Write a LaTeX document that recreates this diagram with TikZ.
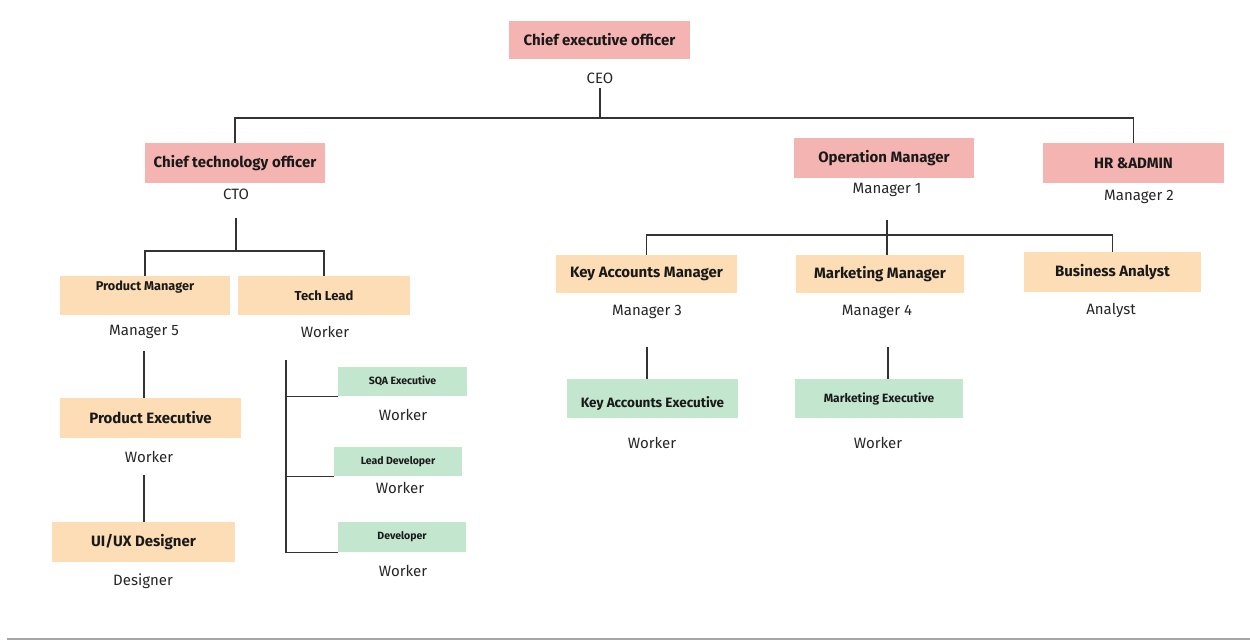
\documentclass[tikz,border=0pt]{standalone}
\usepackage{fontspec}
\setmainfont{Fira Sans}
\definecolor{rolepink}{HTML}{F4B4B1}
\definecolor{rolepeach}{HTML}{FCDDB6}
\definecolor{rolegreen}{HTML}{C3E6CE}
\definecolor{linegray}{HTML}{333333}
\begin{document}
\begin{tikzpicture}[x=1pt, y=-1pt,
        box/.style={rectangle, inner sep=0pt, font=\bfseries\fontsize{15}{17}\selectfont, text=black!90},
        pinkbox/.style={box, fill=rolepink},
        peachbox/.style={box, fill=rolepeach},
        greenbox/.style={box, fill=rolegreen},
        tag/.style={inner sep=2pt, font=\fontsize{15}{17}\selectfont, text=black!85},
        line/.style={draw=linegray, line width=1.2pt}]
        \useasboundingbox (0,0) rectangle (1250,643);

        % Boxes (Roles)
        \node[pinkbox, minimum width=181, minimum height=38] (ceo) at (599.5,40) {Chief executive officer};
        \node[pinkbox, minimum width=180, minimum height=40] (cto) at (235,163) {Chief technology officer};
        \node[pinkbox, minimum width=180, minimum height=40] (opm) at (884,158) {Operation Manager};
        \node[pinkbox, minimum width=181, minimum height=40] (hr) at (1133.5,163) {HR \&ADMIN};
        \node[peachbox, minimum width=170, minimum height=39, text depth=20pt, font=\bfseries\fontsize{12.7}{14}\selectfont] (pm) at (145,295.5) {Product Manager};
        \node[peachbox, minimum width=172, minimum height=39, font=\bfseries\fontsize{13}{15}\selectfont] (tl) at (324,295.5) {Tech Lead};
        \node[peachbox, minimum width=181, minimum height=38] (kam) at (646.5,274) {Key Accounts Manager};
        \node[peachbox, minimum width=168, minimum height=38] (mm) at (880,274) {Marketing Manager};
        \node[peachbox, minimum width=177, minimum height=40] (ba) at (1112.5,272) {Business Analyst};
        \node[peachbox, minimum width=181, minimum height=40] (pe) at (150.5,418) {Product Executive};
        \node[peachbox, minimum width=183, minimum height=40] (ux) at (143.5,542) {UI/UX Designer};
        \node[greenbox, minimum width=129, minimum height=29, font=\bfseries\fontsize{10.5}{12}\selectfont] (sqa) at (402.5,381.5) {SQA Executive};
        \node[greenbox, minimum width=128, minimum height=29, font=\bfseries\fontsize{10.5}{12}\selectfont] (ld) at (398,461.5) {Lead Developer};
        \node[greenbox, minimum width=128, minimum height=30, font=\bfseries\fontsize{10.5}{12}\selectfont] (dev) at (402,537) {Developer};
        \node[greenbox, minimum width=171, minimum height=39, text height=20pt, font=\bfseries\fontsize{13.5}{15}\selectfont] (kae) at (652.5,398.5) {Key Accounts Executive};
        \node[greenbox, minimum width=168, minimum height=39, font=\bfseries\fontsize{12}{14}\selectfont] (me) at (879,398.5) {Marketing Executive};

        % Labels (Titles)
        \node[tag] (ceolbl) at (600,78) {CEO};
        \node[tag] (ctolbl) at (236,194) {CTO};
        \node[tag] (opmlbl) at (887,190) {Manager 1};
        \node[tag] (hrlbl) at (1139,197) {Manager 2};
        \node[tag] (pmlbl) at (144,332) {Manager 5};
        \node[tag] (tllbl) at (325,332) {Worker};
        \node[tag] (kamlbl) at (647,312) {Manager 3};
        \node[tag] (mmlbl) at (877,312) {Manager 4};
        \node[tag] (balbl) at (1111,310) {Analyst};
        \node[tag] (pelbl) at (149,457) {Worker};
        \node[tag] (uxlbl) at (143,581) {Designer};
        \node[tag] (sqalbl) at (403,415) {Worker};
        \node[tag] (ldlbl) at (400,488) {Worker};
        \node[tag] (devlbl) at (403,571) {Worker};
        \node[tag] (kaelbl) at (652,443) {Worker};
        \node[tag] (melbl) at (878,443) {Worker};

        % Junctions
        \coordinate (ceo-s) at (600,88);
        \coordinate (ceo-j) at (600,118);
        \coordinate (cto-s) at (236,218);
        \coordinate (cto-j) at (236,251);
        \coordinate (opm-s) at (887,220);
        \coordinate (opm-j) at (887,235);
        \coordinate (pm-s) at (144,351);
        \coordinate (pe-s) at (144,475);
        \coordinate (tl-s) at (286,360);
        \coordinate (kam-s) at (647,347);
        \coordinate (mm-s) at (888,347);

        % Lines (Reports)
        \draw[line] (ceo-s) -- (ceo-j) -| (cto.north);
        \draw[line] (ceo-j) -| (hr.north);
        \draw[line] (cto-s) -- (cto-j) -| (pm.north);
        \draw[line] (cto-j) -| (tl.north);
        \draw[line] (opm-s) -- (opm-j) -| (kam.north);
        \draw[line] (opm-j) -| (ba.north);
        \draw[line] (opm-j) -- (opm-j |- mm.north);
        \draw[line] (pm-s) -- (pm-s |- pe.north);
        \draw[line] (pe-s) -- (pe-s |- ux.north);
        \draw[line] (tl-s) |- (sqa.south west);
        \draw[line] (tl-s) |- (ld.south west);
        \draw[line] (tl-s) |- (dev.south west);
        \draw[line] (kam-s) -- (kam-s |- kae.north);
        \draw[line] (mm-s) -- (mm-s |- me.north);

        % Footer rule
        \coordinate (foot-l) at (7,639);
        \coordinate (foot-r) at (1250,639);
        \draw[black!35, line width=1.5pt] (foot-l) -- (foot-r);
    \end{tikzpicture}
\end{document}
